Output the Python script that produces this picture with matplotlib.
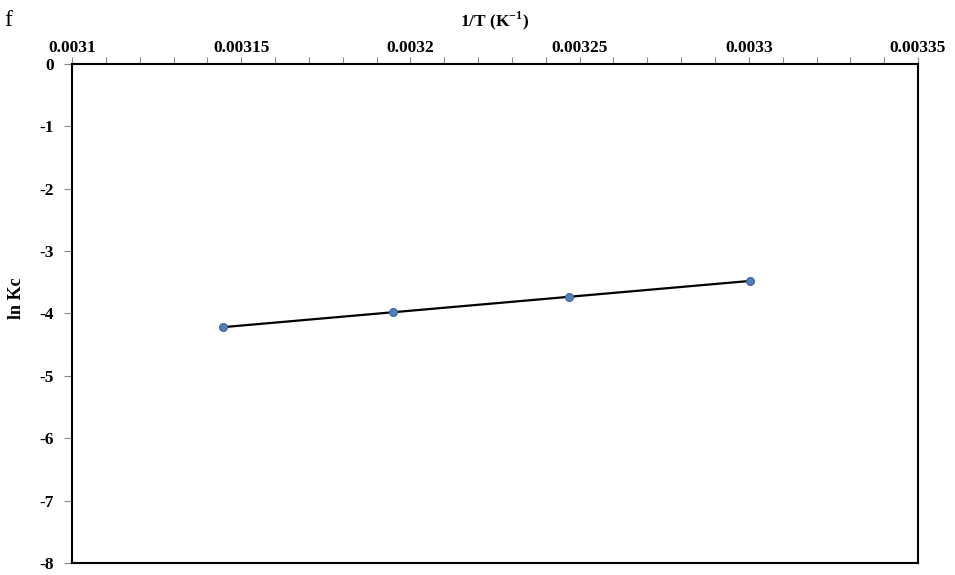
import matplotlib.pyplot as plt
import numpy as np
from matplotlib.ticker import MultipleLocator, FixedLocator

# van't Hoff data
inv_T = [1 / 318, 1 / 313, 1 / 308, 1 / 303]
ln_Kc = [-4.22, -3.98, -3.73, -3.48]
x_ticks = [0.0031, 0.00315, 0.0032, 0.00325, 0.0033, 0.00335]
x_tick_labels = ['0.0031', '0.00315', '0.0032', '0.00325', '0.0033', '0.00335']
y_ticks = [0, -1, -2, -3, -4, -5, -6, -7, -8]

plt.rcParams['font.family'] = ['Liberation Serif', 'DejaVu Serif']

fig = plt.figure(figsize=(9.55, 5.75), dpi=100)
ax = fig.add_axes([0.0754, 0.0209, 0.8859, 0.8678])

# linear trendline through the points
m, c = np.polyfit(inv_T, ln_Kc, 1)
xf = np.array([min(inv_T), max(inv_T)])
ax.plot(xf, m * xf + c, color='black', lw=1.6, zorder=2)
ax.plot(inv_T, ln_Kc, 'o', color='#4F81BD', mec='#46699A', ms=5.5, zorder=3)

ax.set_xlim(0.0031, 0.00335)
ax.set_ylim(-8, 0)

ax.xaxis.tick_top()
ax.xaxis.set_label_position('top')
ax.xaxis.set_major_locator(FixedLocator(x_ticks))
ax.set_xticklabels(x_tick_labels, fontsize=12.5, fontweight='bold')
ax.xaxis.set_minor_locator(MultipleLocator(0.00001))
ax.set_yticks(y_ticks)
ax.set_yticklabels([str(v) for v in y_ticks], fontsize=12.5, fontweight='bold')

ax.tick_params(axis='x', which='both', direction='out', length=5, width=0.8,
               color='#888888', pad=1)
ax.tick_params(axis='y', direction='out', length=6, width=0.8, color='#888888', pad=7)

for s in ax.spines.values():
    s.set_linewidth(1.5)
    s.set_color('black')

ax.set_xlabel('1/T (K$^{\\mathregular{-1}}$)', fontsize=12.5, fontweight='bold', labelpad=10)
ax.set_ylabel('ln Kc', fontsize=13, fontweight='bold')
ax.yaxis.set_label_coords(-0.055, 0.53)

fig.text(0.004, 0.955, 'f', fontsize=17)

fig.savefig('out.png', dpi=100)
